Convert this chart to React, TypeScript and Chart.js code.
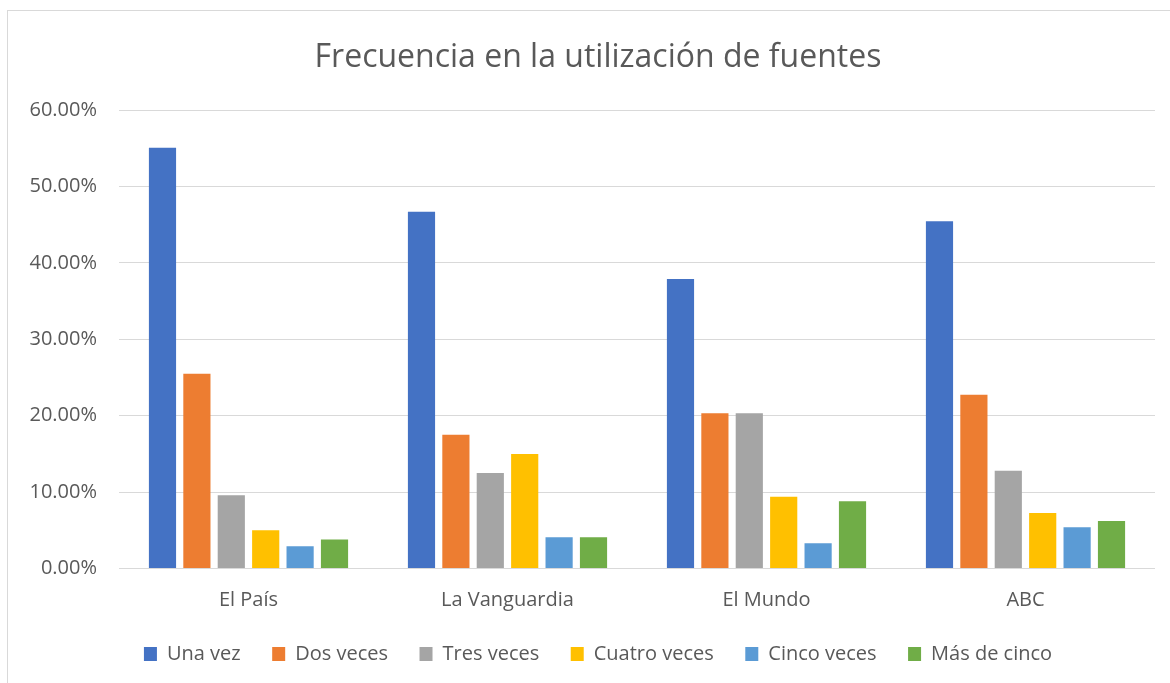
import React, { useEffect, useRef } from "react";
import { Chart, registerables } from "chart.js";

Chart.register(...registerables);

const categories = ["El País", "La Vanguardia", "El Mundo", "ABC"];
const seriesNames = ["Una vez", "Dos veces", "Tres veces", "Cuatro veces", "Cinco veces", "Más de cinco"];
const unaVez = [0.5505, 0.4667, 0.3788, 0.4545];
const dosVeces = [0.255, 0.175, 0.203, 0.2273];
const tresVeces = [0.096, 0.125, 0.203, 0.128];
const cuatroVeces = [0.05, 0.15, 0.094, 0.0725];
const cincoVeces = [0.029, 0.041, 0.033, 0.054];
const masDeCinco = [0.038, 0.041, 0.088, 0.062];
const colors = ["#4472C4", "#ED7D31", "#A5A5A5", "#FFC000", "#5B9BD5", "#70AD47"];
const yTicksMax = 0.6;
const yStep = 0.1;
const titleText = "Frecuencia en la utilización de fuentes";

const unclipYLabels = {
  id: "unclipYLabels",
  afterLayout(chart: any) {
    const y = chart.scales.y;
    if (y) y.left = 0;
  },
};

export default function App() {
  const ref = useRef<HTMLCanvasElement | null>(null);
  useEffect(() => {
    if (!ref.current) return;
    const font = "'Open Sans', 'Noto Sans', sans-serif";
    const values = [unaVez, dosVeces, tresVeces, cuatroVeces, cincoVeces, masDeCinco];
    const chart = new Chart(ref.current, {
      type: "bar",
      data: {
        labels: categories,
        datasets: seriesNames.map((name, i) => ({
          label: name,
          data: values[i],
          backgroundColor: colors[i],
          borderWidth: 0,
          categoryPercentage: 0.797,
          barPercentage: 0.79,
        })),
      },
      plugins: [unclipYLabels],
      options: {
        animation: false,
        responsive: false,
        maintainAspectRatio: false,
        layout: { padding: { left: 41, right: 15, top: 0, bottom: 9 } },
        font: { family: font },
        plugins: {
          title: {
            display: true,
            text: titleText,
            color: "#595959",
            font: { family: font, size: 32, weight: "normal", lineHeight: 1.2 },
            padding: { top: 39, bottom: 32.6 },
          },
          legend: {
            position: "bottom",
            labels: {
              color: "#595959",
              font: { family: font, size: 20 },
              boxWidth: 13,
              boxHeight: 14,
              padding: 31.5,
            },
          },
          tooltip: { enabled: false },
        },
        scales: {
          x: {
            afterFit: (scale: any) => {
              scale.height = 44;
            },
            grid: { display: false, drawTicks: false },
            border: { display: false },
            ticks: { color: "#595959", font: { family: font, size: 20 }, padding: 20, maxRotation: 0 },
          },
          y: {
            min: 0,
            max: yTicksMax,
            afterFit: (scale: any) => {
              scale.width = 78;
            },
            grid: { color: "#d9d9d9", lineWidth: 1, drawTicks: false },
            border: { display: false },
            ticks: {
              stepSize: yStep,
              color: "#595959",
              font: { family: font, size: 20 },
              padding: 22,
              callback: (v: any) => (Number(v) * 100).toFixed(2) + "%",
            },
          },
        },
      },
    });
    return () => chart.destroy();
  }, []);
  return (
    <div style={{ position: "fixed", left: 0, top: 0, width: 1170, height: 683, overflow: "hidden", background: "#fff" }}>
      <div
        style={{
          position: "absolute",
          left: 7,
          top: 10,
          width: 1200,
          height: 720,
          borderLeft: "1px solid #d9d9d9",
          borderTop: "1px solid #d9d9d9",
        }}
      />
      <canvas ref={ref} width={1170} height={683} style={{ position: "absolute", left: 0, top: 0, display: "block" }} />
    </div>
  );
}
